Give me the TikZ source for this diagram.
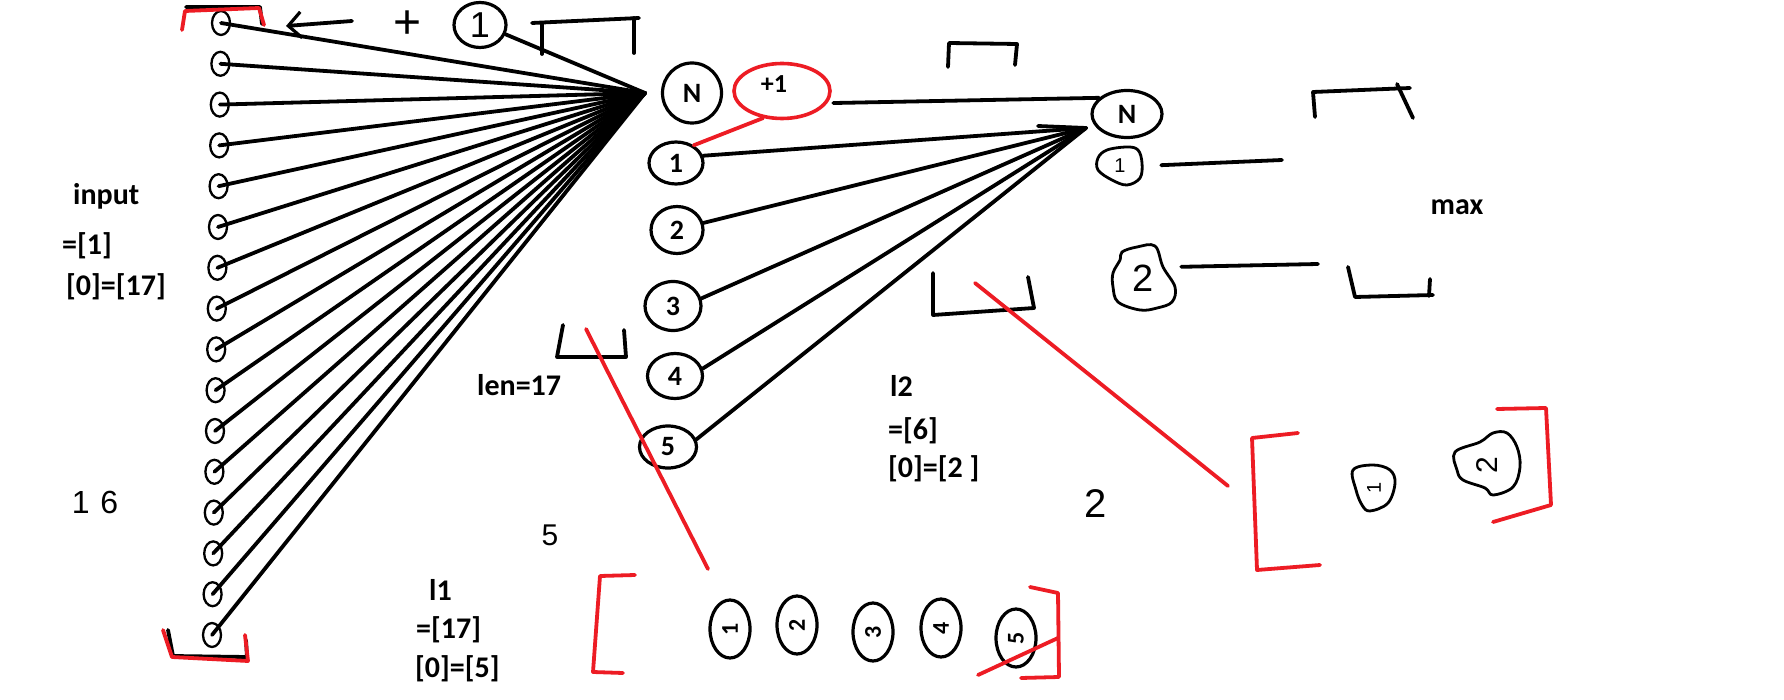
\documentclass[tikz,border=0pt]{standalone}
\usepackage{fontspec}
\setmainfont{Carlito}
\newfontfamily\hand{Liberation Sans}
\usetikzlibrary{shapes.geometric,arrows.meta}
\definecolor{pred}{RGB}{237,28,36}
\begin{document}
\begin{tikzpicture}[x=1pt,y=-1pt,
  ink/.style={line width=3.8pt,line cap=round,line join=round},
  rink/.style={ink,draw=pred},
  inc/.style={ellipse,draw,line width=2.3pt,minimum width=18pt,minimum height=24pt,inner sep=0pt},
  hid/.style={ellipse,draw,line width=3.2pt,inner sep=0pt,font=\bfseries\fontsize{28}{28}\selectfont},
  lab/.style={font=\bfseries\fontsize{30}{31}\selectfont,inner sep=0pt,anchor=west},
  hw/.style={font=\hand\fontsize{#1}{#1}\selectfont,inner sep=0pt},
  blob/.style={line width=2.8pt,line join=round},
]
\useasboundingbox[fill=white] (0,0) rectangle (1784,700);

% ---------- input column ----------
\foreach \i in {0,...,15} {
  \pgfmathsetmacro\yy{23+40.8*\i}
  \pgfmathsetmacro\xx{221-0.6*\i}
  \node[inc] (in\i) at (\xx,\yy) {};
}
\coordinate (c1) at (645,93);
\foreach \i in {0,...,15} \draw[ink] (in\i.center) -- (c1);

% brackets round the column
\draw[ink] (186,7) -- (260,7) -- (262,24);
\draw[rink] (182,30) -- (185,11) -- (259,8) -- (264,25);
\draw[ink] (168,630) -- (173,656) -- (247,657) -- (246,640);
\draw[rink] (163,630) -- (172,657) -- (248,661) -- (245,635);

% ---------- top: arrow, plus, bias ----------
\coordinate (aS) at (352,21);
\coordinate (aT) at (286,26);
\draw[ink,-{Straight Barb[length=13pt,width=26pt,line width=3.2pt]}] (aS) -- (aT);
\node[hw=48] (plus) at (408,25) {+};
\node[ellipse,draw,line width=3.2pt,minimum width=52pt,minimum height=45pt,inner sep=0pt,hw=36] (one) at (480,25) {1};
\draw[ink] (one.-20) -- (c1);
\draw[ink] (532,23) -- (639,18);
\draw[ink] (542,23) -- (542,54);
\draw[ink] (634,18) -- (634,53);

% ---------- texts left ----------
\node[lab] (tinput) at (73,196) {input};
\node[lab] (teq1) at (62,246) {=[1]};
\node[lab] (tz17) at (66,287) {[0]=[17]};
\node[hw=32] (t16) at (95,502) {1\,\,6};
\node[lab] (tlen) at (477,385) {len=17};
\node[hw=30] (t5) at (550,535) {5};
\node[lab] (tl1) at (429,590) {l1};
\node[lab] (teq17) at (416,630) {=[17]};
\node[lab] (tz5) at (415,669) {[0]=[5]};

% ---------- hidden layer 1 ----------
\node[hid,minimum width=59pt,minimum height=60pt] (N1) at (692,93) {N};
\node[ellipse,draw=pred,line width=3.6pt,minimum width=96pt,minimum height=55pt,inner sep=0pt] (rE) at (782,91) {};
\node[font=\bfseries\fontsize{26}{26}\selectfont,inner sep=0pt] (plusone) at (774,84) {+1};

\node[hid,minimum width=54pt,minimum height=42pt] (m1) at (676,163) {1};
\node[hid,minimum width=52pt,minimum height=47pt] (m2) at (677,230) {2};
\node[hid,minimum width=56pt,minimum height=49pt] (m3) at (673,306) {3};
\node[hid,minimum width=55pt,minimum height=45pt] (m4) at (675,376) {4};
\node[hid,minimum width=57pt,minimum height=42pt] (m5) at (668,447) {5};
\draw[rink] (rE.235) -- (m1.45);

% ---------- hidden layer 2 ----------
\node[hid,minimum width=70pt,minimum height=47pt] (N2) at (1127,114) {N};
\draw[ink,shorten <=6pt] (rE.-15) -- (N2.150);
\coordinate (c2) at (1086,128);
\coordinate (tk) at (1038,126);
\foreach \i in {1,...,5} \draw[ink] (m\i.15) -- (c2);
\draw[ink] (tk) -- (c2);

% brackets near layer 2
\draw[ink] (948,67) -- (949,43) -- (1017,44) -- (1015,65);
\draw[ink] (933,273) -- (933,315) -- (1034,308) -- (1028,277);
\draw[ink] (563,325) -- (557,357) -- (626,357) -- (624,330);

\node[lab] (tl2) at (890,386) {l2};
\node[lab] (teq6) at (888,431) {=[6]};
\node[lab] (tz2) at (888,469) {[0]=[2 ]};
\node[hw=40] (t2) at (1096,504) {2};

% ---------- outputs ----------
\node[ellipse,minimum width=44pt,minimum height=40pt,inner sep=0pt,hw=20] (b1) at (1120,166) {1};
\draw[blob] plot[smooth cycle,tension=0.6] coordinates {(1098,158) (1107,150) (1127,147) (1138,150) (1142,163) (1140,178) (1127,185) (1112,180) (1098,170)};
\node[ellipse,minimum width=64pt,minimum height=64pt,inner sep=0pt,hw=38] (b2) at (1143,278) {2};
\draw[blob] plot[smooth cycle,tension=0.6] coordinates {(1122,252) (1137,247) (1155,246) (1163,267) (1175,287) (1172,302) (1157,308) (1140,310) (1118,302) (1113,287) (1113,273) (1120,260)};
\coordinate (e1) at (1282,160);
\coordinate (e2) at (1318,264);
\draw[ink,shorten <=19pt] (b1.east) -- (e1);
\draw[ink,shorten <=8pt] (b2.20) -- (e2);

\draw[ink] (1315,117) -- (1313,92) -- (1410,88);
\draw[ink] (1397,84) -- (1413,118);
\draw[ink] (1348,267) -- (1355,297) -- (1433,295);
\draw[ink] (1430,279) -- (1429,296);
\node[lab,anchor=center] (tmax) at (1457,207) {max};

% ---------- red group right ----------
\coordinate (r2a) at (975,283);
\coordinate (r2b) at (1228,486);
\draw[rink] (r2a) -- (r2b);
\draw[rink] (1298,433) -- (1252,438) -- (1257,570) -- (1320,565);
\draw[rink] (1497,409) -- (1546,408) -- (1551,505) -- (1493,522);
\node[ellipse,minimum width=40pt,minimum height=44pt,inner sep=0pt,hw=20] (rb1) at (1374,488) {\rotatebox{90}{1}};
\draw[blob] plot[smooth cycle,tension=0.6] coordinates {(1353,470) (1373,465) (1390,470) (1395,483) (1388,503) (1370,511) (1362,505) (1356,490)};
\node[ellipse,minimum width=60pt,minimum height=60pt,inner sep=0pt,hw=30] (rb2) at (1487,465) {\rotatebox{90}{2}};
\draw[blob] plot[smooth cycle,tension=0.6] coordinates {(1455,452) (1480,442) (1493,433) (1507,433) (1517,447) (1520,467) (1513,487) (1493,495) (1485,488) (1463,480) (1457,470)};

% ---------- red group bottom ----------
\coordinate (r1a) at (586,329);
\coordinate (r1b) at (708,569);
\draw[rink] (r1a) -- (r1b);
\draw[rink] (635,575) -- (600,576) -- (593,672) -- (623,673);
\draw[rink] (1030,587) -- (1058,593) -- (1059,677) -- (1021,678);
\foreach \n/\x/\y in {1/730/629,2/797/625,3/873/632,4/941/628,5/1016/638}
  \node[hid,minimum width=40pt,minimum height=58pt,font=\bfseries\fontsize{24}{24}\selectfont] (o\n) at (\x,\y) {\rotatebox{90}{\n}};
\draw[rink] (978,675) -- (1058,638);
\end{tikzpicture}
\end{document}
